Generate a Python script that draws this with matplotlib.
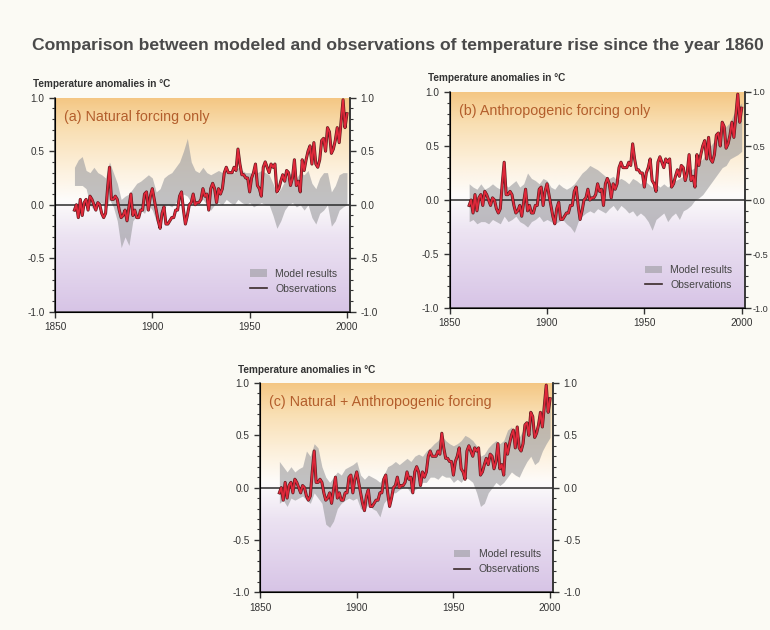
import numpy as np
import matplotlib
matplotlib.use("Agg")
import matplotlib.pyplot as plt
from matplotlib.colors import LinearSegmentedColormap
from matplotlib.patches import Patch
from matplotlib.lines import Line2D
from matplotlib.ticker import MultipleLocator

plt.rcParams["font.family"] = ["Liberation Sans", "DejaVu Sans"]

# ------------------------------------------------------------------
# Data
# ------------------------------------------------------------------
obs_years = list(range(1860, 2001))
obs = [
    -0.05, 0.00, -0.12, 0.05, -0.10, 0.02, 0.05, -0.05, 0.08, 0.05,
    0.00, -0.05, 0.02, 0.00, -0.08, -0.12, -0.08, 0.15, 0.35, 0.05,
    0.05, 0.08, 0.05, -0.05, -0.12, -0.10, -0.05, -0.15, -0.02, 0.10,
    -0.10, -0.05, -0.12, -0.12, -0.05, -0.05, 0.10, 0.12, -0.05, 0.08,
    0.15, 0.05, -0.05, -0.15, -0.22, -0.08, -0.02, -0.18, -0.18, -0.15,
    -0.12, -0.12, -0.05, -0.05, 0.08, 0.12, -0.05, -0.18, -0.10, 0.00,
    0.02, 0.10, 0.00, 0.02, 0.02, 0.05, 0.15, 0.08, 0.10, -0.05,
    0.15, 0.20, 0.15, 0.02, 0.15, 0.10, 0.15, 0.30, 0.35, 0.30,
    0.30, 0.30, 0.35, 0.32, 0.52, 0.38, 0.28, 0.28, 0.25, 0.25,
    0.12, 0.25, 0.30, 0.38, 0.18, 0.15, 0.08, 0.35, 0.40, 0.35,
    0.30, 0.38, 0.35, 0.38, 0.12, 0.15, 0.22, 0.28, 0.22, 0.32,
    0.30, 0.18, 0.25, 0.42, 0.18, 0.22, 0.12, 0.42, 0.32, 0.42,
    0.50, 0.55, 0.38, 0.58, 0.38, 0.35, 0.42, 0.60, 0.62, 0.50,
    0.72, 0.68, 0.48, 0.52, 0.60, 0.72, 0.58, 0.78, 0.98, 0.72,
    0.85,
]

model_years = list(range(1860, 2001, 2))

# (a) natural forcing only
nat_lo = [
    0.18, 0.18, 0.18, 0.15, 0.00, -0.05, 0.00, 0.02, -0.05, 0.05,
    -0.02, -0.15, -0.40, -0.30, -0.38, -0.15, -0.10, -0.05, -0.08, 0.00,
    -0.05, -0.15, -0.12, -0.02, 0.00, -0.02, 0.02, 0.05, 0.10, 0.08,
    0.02, 0.00, 0.02, 0.05, 0.00, -0.05, 0.00, 0.02, 0.00, 0.05,
    0.02, 0.00, 0.05, 0.02, 0.00, 0.02, -0.02, 0.00, 0.02, 0.00,
    0.00, -0.10, -0.22, -0.15, -0.05, 0.00, 0.02, -0.02, 0.00, -0.05,
    0.00, -0.12, -0.18, -0.08, -0.05, 0.00, -0.20, -0.15, -0.05, -0.02,
    0.00,
]
nat_hi = [
    0.35, 0.42, 0.45, 0.32, 0.30, 0.35, 0.30, 0.28, 0.25, 0.40,
    0.30, 0.20, 0.05, 0.08, 0.10, 0.15, 0.20, 0.22, 0.25, 0.28,
    0.25, 0.12, 0.15, 0.25, 0.28, 0.30, 0.35, 0.40, 0.50, 0.62,
    0.40, 0.32, 0.30, 0.35, 0.30, 0.28, 0.30, 0.32, 0.30, 0.35,
    0.30, 0.30, 0.35, 0.32, 0.30, 0.30, 0.28, 0.30, 0.32, 0.30,
    0.28, 0.20, 0.10, 0.15, 0.22, 0.28, 0.30, 0.25, 0.30, 0.28,
    0.32, 0.20, 0.15, 0.25, 0.30, 0.30, 0.12, 0.18, 0.28, 0.30,
    0.30,
]

# (b) anthropogenic forcing only
ant_lo = [
    -0.20, -0.18, -0.22, -0.20, -0.20, -0.22, -0.18, -0.20, -0.22, -0.15,
    -0.20, -0.18, -0.15, -0.20, -0.22, -0.25, -0.20, -0.18, -0.15, -0.20,
    -0.18, -0.20, -0.22, -0.20, -0.18, -0.22, -0.25, -0.30, -0.20, -0.15,
    -0.12, -0.10, -0.12, -0.08, -0.10, -0.12, -0.08, -0.05, -0.10, -0.05,
    -0.08, -0.12, -0.10, -0.15, -0.12, -0.15, -0.20, -0.28, -0.18, -0.15,
    -0.12, -0.20, -0.15, -0.12, -0.18, -0.10, -0.08, -0.05, 0.00, 0.02,
    0.05, 0.10, 0.15, 0.20, 0.25, 0.30, 0.32, 0.38, 0.40, 0.42,
    0.45,
]
ant_hi = [
    0.15, 0.12, 0.10, 0.15, 0.10, 0.12, 0.15, 0.12, 0.10, 0.15,
    0.12, 0.15, 0.18, 0.12, 0.15, 0.25, 0.20, 0.18, 0.15, 0.20,
    0.18, 0.12, 0.10, 0.15, 0.12, 0.10, 0.12, 0.15, 0.20, 0.25,
    0.28, 0.32, 0.30, 0.28, 0.25, 0.22, 0.20, 0.22, 0.18, 0.20,
    0.18, 0.15, 0.20, 0.18, 0.15, 0.18, 0.15, 0.12, 0.15, 0.12,
    0.15, 0.12, 0.15, 0.18, 0.20, 0.22, 0.25, 0.28, 0.30, 0.35,
    0.38, 0.45, 0.50, 0.55, 0.60, 0.65, 0.68, 0.72, 0.80, 0.85,
    0.90,
]

# (c) natural + anthropogenic forcing
all_lo = [
    -0.15, -0.12, -0.18, -0.10, -0.12, -0.10, -0.08, -0.12, -0.15, -0.05,
    -0.10, -0.15, -0.35, -0.38, -0.32, -0.20, -0.15, -0.12, -0.10, -0.12,
    -0.10, -0.20, -0.22, -0.15, -0.20, -0.22, -0.28, -0.15, -0.10, -0.05,
    -0.05, -0.02, 0.00, 0.00, -0.05, -0.02, 0.00, 0.05, 0.05, 0.10,
    0.10, 0.08, 0.12, 0.10, 0.10, 0.05, 0.08, 0.05, 0.10, 0.08,
    0.05, -0.05, -0.18, -0.15, -0.05, 0.00, 0.05, 0.02, 0.05, 0.10,
    0.15, 0.12, 0.10, 0.18, 0.25, 0.30, 0.22, 0.25, 0.35, 0.42,
    0.48,
]
all_hi = [
    0.25, 0.20, 0.15, 0.20, 0.15, 0.18, 0.20, 0.35, 0.30, 0.42,
    0.38, 0.20, 0.10, 0.05, 0.10, 0.15, 0.12, 0.18, 0.20, 0.22,
    0.25, 0.12, 0.08, 0.12, 0.10, 0.08, 0.05, 0.12, 0.20, 0.22,
    0.25, 0.22, 0.25, 0.28, 0.25, 0.30, 0.32, 0.30, 0.35, 0.38,
    0.42, 0.45, 0.50, 0.45, 0.42, 0.40, 0.42, 0.45, 0.50, 0.48,
    0.45, 0.40, 0.30, 0.32, 0.38, 0.42, 0.45, 0.42, 0.45, 0.55,
    0.58, 0.50, 0.48, 0.55, 0.62, 0.65, 0.55, 0.60, 0.70, 0.80,
    0.85,
]

panel_titles = [
    "(a) Natural forcing only",
    "(b) Anthropogenic forcing only",
    "(c) Natural + Anthropogenic forcing",
]
model_lo = [nat_lo, ant_lo, all_lo]
model_hi = [nat_hi, ant_hi, all_hi]

title = "Comparison between modeled and observations of temperature rise since the year 1860"
ylabel = "Temperature anomalies in \u00b0C"

# ------------------------------------------------------------------
# Figure
# ------------------------------------------------------------------
fig = plt.figure(figsize=(7.7, 6.3), dpi=100, facecolor="#fbfaf4")

fig.text(0.042, 0.928, title, fontsize=12.6, fontweight="bold",
         color="#4a4a4a", ha="left", va="center")

# axes rectangles [left, bottom, width, height]
rects = [
    [0.0714, 0.505, 0.383, 0.340],
    [0.584, 0.511, 0.383, 0.343],
    [0.3377, 0.060, 0.3805, 0.332],
]

bg_cmap = LinearSegmentedColormap.from_list(
    "bg",
    [(0.0, "#d7c4e6"), (0.35, "#ece3f2"), (0.52, "#fdfcfb"),
     (0.65, "#fdf2e0"), (0.85, "#f9dfb3"), (1.0, "#f4c682")],
)
grad = np.linspace(0, 1, 256).reshape(-1, 1)

xmin, xmax = 1850, 2001.5
tick_col = "#333333"

for i, rect in enumerate(rects):
    ax = fig.add_axes(rect)
    ax.imshow(grad, extent=[xmin, xmax, -1, 1], origin="lower",
              aspect="auto", cmap=bg_cmap, zorder=0)

    ax.fill_between(model_years, model_lo[i], model_hi[i],
                    color="#9a9a9e", alpha=0.6, linewidth=0, zorder=2)

    ax.axhline(0, color="#2b2b2b", linewidth=1.1, zorder=3)

    ax.plot(obs_years, obs, color="#5b1a1e", linewidth=2.2, zorder=4)
    ax.plot(obs_years, obs, color="#e0283a", linewidth=1.3, zorder=5)

    ax.set_xlim(xmin, xmax)
    ax.set_ylim(-1, 1)
    ax.set_xticks([1850, 1900, 1950, 2000])
    ax.set_xticklabels(["1850", "1900", "1950", "2000"])
    ax.yaxis.set_major_locator(MultipleLocator(0.5))
    ax.yaxis.set_minor_locator(MultipleLocator(0.1))
    ax.yaxis.set_major_formatter(plt.FormatStrFormatter("%.1f"))
    ax.tick_params(axis="both", which="major", labelsize=7.2,
                   direction="out", length=4, width=1, color=tick_col,
                   labelcolor=tick_col)
    ax.tick_params(axis="y", which="minor", direction="out",
                   length=2.5, width=0.8, color=tick_col)

    ax.spines["top"].set_visible(False)
    for side in ["left", "right", "bottom"]:
        ax.spines[side].set_color(tick_col)
        ax.spines[side].set_linewidth(1.1)

    # right-hand axis; panel (b) sits at the page edge, so keep it tight
    r_size = 6.6 if i == 1 else 7.2
    r_pad = 1.5 if i == 1 else 3.5
    axr = ax.twinx()
    axr.set_ylim(-1, 1)
    axr.yaxis.set_major_locator(MultipleLocator(0.5))
    axr.yaxis.set_minor_locator(MultipleLocator(0.1))
    axr.yaxis.set_major_formatter(plt.FormatStrFormatter("%.1f"))
    axr.tick_params(axis="y", which="major", labelsize=r_size, pad=r_pad,
                    direction="out", length=4, width=1, color=tick_col,
                    labelcolor=tick_col)
    axr.tick_params(axis="y", which="minor", direction="out",
                    length=2.5, width=0.8, color=tick_col)
    axr.spines["top"].set_visible(False)
    axr.spines["right"].set_color(tick_col)
    axr.spines["right"].set_linewidth(1.1)

    ax.text(0.03, 0.91, panel_titles[i], transform=ax.transAxes,
            fontsize=10.3, color="#b35e2c", ha="left", va="center")

    ax.text(-0.075, 1.04, ylabel, transform=ax.transAxes, fontsize=7.2,
            fontweight="bold", color="#333333", ha="left", va="bottom")

    handles = [
        Patch(facecolor="#9a9a9e", alpha=0.6, edgecolor="none",
              label="Model results"),
        Line2D([0], [0], color="#3a2a2a", linewidth=1.2,
               label="Observations"),
    ]
    ax.legend(handles=handles, loc="lower right",
              bbox_to_anchor=(0.99, 0.04), frameon=False, fontsize=7.5,
              handlelength=1.6, labelcolor="#444444")

fig.savefig("out.png", dpi=100, facecolor=fig.get_facecolor())
